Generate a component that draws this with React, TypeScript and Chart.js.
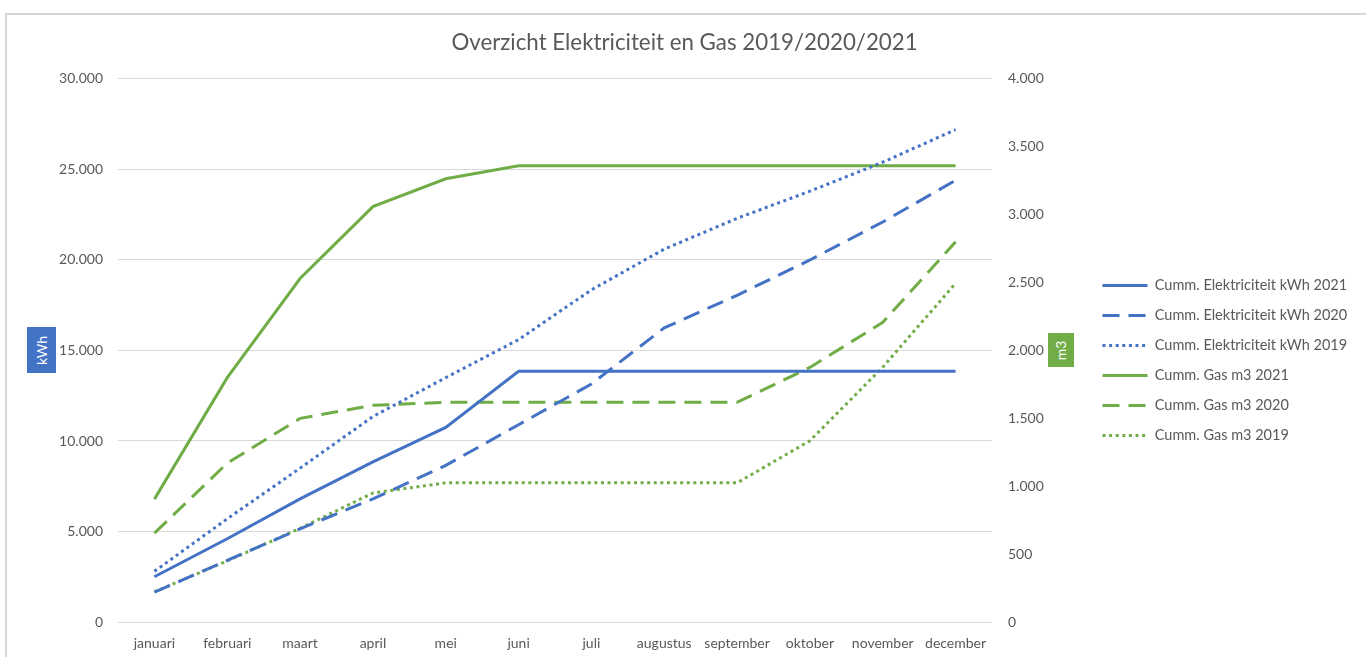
import React, { useEffect, useRef } from "react";
import { Chart, registerables } from "chart.js";

Chart.register(...registerables);

// ---- data ----
const months = [
  "januari", "februari", "maart", "april", "mei", "juni",
  "juli", "augustus", "september", "oktober", "november", "december",
];

const elek2021 = [2500, 4600, 6800, 8850, 10750, 13850, 13850, 13850, 13850, 13850, 13850, 13850];
const elek2020 = [1650, 3400, 5150, 6800, 8650, 10900, 13150, 16250, 18050, 20000, 22100, 24400];
const elek2019 = [2800, 5700, 8500, 11350, 13500, 15600, 18350, 20600, 22300, 23800, 25400, 27200];
const gas2021 = [905, 1800, 2530, 3060, 3265, 3360, 3360, 3360, 3360, 3360, 3360, 3360];
const gas2020 = [655, 1170, 1500, 1596, 1618, 1618, 1618, 1618, 1618, 1875, 2207, 2800];
const gas2019 = [222, 450, 690, 950, 1025, 1025, 1025, 1025, 1025, 1335, 1877, 2495];

const seriesLabels = [
  "Cumm. Elektriciteit kWh 2021",
  "Cumm. Elektriciteit kWh 2020",
  "Cumm. Elektriciteit kWh 2019",
  "Cumm. Gas m3 2021",
  "Cumm. Gas m3 2020",
  "Cumm. Gas m3 2019",
];

const titleText = "Overzicht Elektriciteit en Gas 2019/2020/2021";
const leftAxisTitle = "kWh";
const rightAxisTitle = "m3";

// ---- styles ----
const W = 1369;
const H = 657;
const FONT = "Lato, 'Open Sans', sans-serif";
const GREY = "#595959";
const GRID = "#d9d9d9";
const BLUE = "#4472C4";
const GREEN = "#70AD47";
const DASH = [17, 9];
const DOT = [3, 3.6];

const LEGEND_FONT = 14.5;
const LEGEND_PAD = 15.5;
const LEGEND_BOX = 45;
const LEGEND_LEFT = 1087;
const CHART_LEFT = 118;
const CHART_RIGHT = 992;
const BOTTOM_PAD = -7;

function nlNumber(v: number): string {
  const s = String(Math.round(v));
  return s.replace(/\B(?=(\d{3})+(?!\d))/g, ".");
}

export default function App() {
  const ref = useRef<HTMLCanvasElement | null>(null);

  useEffect(() => {
    if (!ref.current) return;
    const mc = document.createElement("canvas").getContext("2d")!;
    mc.font = `${LEGEND_FONT}px ${FONT}`;
    const maxText = Math.max(...seriesLabels.map((l) => mc.measureText(l).width));
    // chart.js legend width = padding + box + font/2 + text + 10
    const legendWidth = LEGEND_PAD + LEGEND_BOX + LEGEND_FONT / 2 + maxText + 10;
    const sidePad = Math.max(0, W - LEGEND_LEFT - legendWidth);

    const mk = (
      label: string,
      data: number[],
      color: string,
      dash: number[],
      axis: string
    ) => ({
      label,
      data,
      borderColor: color,
      backgroundColor: color,
      borderWidth: 3,
      borderDash: dash,
      pointRadius: 0,
      pointHoverRadius: 0,
      tension: 0,
      fill: false,
      yAxisID: axis,
    });

    const chart = new Chart(ref.current, {
      type: "line",
      data: {
        labels: months,
        datasets: [
          mk(seriesLabels[0], elek2021, BLUE, [], "y"),
          mk(seriesLabels[1], elek2020, BLUE, DASH, "y"),
          mk(seriesLabels[2], elek2019, BLUE, DOT, "y"),
          mk(seriesLabels[3], gas2021, GREEN, [], "y1"),
          mk(seriesLabels[4], gas2020, GREEN, DASH, "y1"),
          mk(seriesLabels[5], gas2019, GREEN, DOT, "y1"),
        ],
      },
      options: {
        responsive: false,
        animation: false,
        layout: { padding: { left: sidePad, right: sidePad, top: 0, bottom: BOTTOM_PAD } },
        plugins: {
          title: {
            display: true,
            text: titleText,
            color: GREY,
            font: { family: FONT, size: 22.3, weight: "normal" },
            padding: { top: 29, bottom: 23.2 },
          },
          legend: {
            position: "right",
            align: "center",
            fullSize: false,
            maxWidth: 600,
            title: {
              display: true,
              text: "",
              font: { size: 10 },
              padding: { top: 4, bottom: 4 },
            },
            labels: {
              usePointStyle: true,
              pointStyle: "line",
              pointStyleWidth: LEGEND_BOX,
              color: GREY,
              font: { family: FONT, size: LEGEND_FONT },
              padding: LEGEND_PAD,
              generateLabels: (ch: any) => {
                const items = (Chart as any).defaults.plugins.legend.labels.generateLabels(ch);
                items.forEach((it: any, i: number) => {
                  const ds = ch.data.datasets[i];
                  it.lineDash = ds.borderDash;
                  it.strokeStyle = ds.borderColor;
                  it.fillStyle = ds.borderColor;
                  it.lineWidth = 3;
                  it.pointStyle = "line";
                });
                return items;
              },
            },
          },
          tooltip: { enabled: false },
        },
        scales: {
          x: {
            type: "category",
            offset: true,
            grid: { display: false, drawTicks: false },
            border: { display: false },
            ticks: {
              color: GREY,
              font: { family: FONT, size: 14 },
              padding: 12.6,
              maxRotation: 0,
              autoSkip: false,
            },
          },
          y: {
            type: "linear",
            position: "left",
            min: 0,
            max: 30000,
            grid: { color: GRID, lineWidth: 1, drawTicks: false },
            border: { display: false },
            ticks: {
              stepSize: 5000,
              color: GREY,
              font: { family: FONT, size: 14 },
              padding: 15,
              callback: (v: any) => nlNumber(Number(v)),
            },
            afterFit: (s: any) => {
              s.width = CHART_LEFT - sidePad;
            },
          },
          y1: {
            type: "linear",
            position: "right",
            min: 0,
            max: 4000,
            grid: { display: false, drawTicks: false },
            border: { display: false },
            ticks: {
              stepSize: 500,
              color: GREY,
              font: { family: FONT, size: 14 },
              padding: 16,
              callback: (v: any) => nlNumber(Number(v)),
            },
            afterFit: (s: any) => {
              s.width = LEGEND_LEFT - CHART_RIGHT;
            },
          },
        },
      } as any,
    });
    return () => chart.destroy();
  }, []);

  const boxText: React.CSSProperties = {
    position: "absolute",
    display: "flex",
    alignItems: "center",
    justifyContent: "center",
    color: "#ffffff",
    fontFamily: FONT,
    fontSize: 14,
  };

  return (
    <div style={{ position: "absolute", left: 0, top: 0, width: W, height: H, background: "#fff", overflow: "hidden" }}>
      <div
        style={{
          position: "absolute",
          left: 5,
          top: 13,
          width: W - 8,
          height: H,
          borderTop: "2px solid #d6d6d6",
          borderLeft: "2px solid #d6d6d6",
          boxSizing: "border-box",
        }}
      />
      <canvas
        ref={ref}
        width={W}
        height={H}
        style={{ position: "absolute", left: 0, top: 0, width: W, height: H }}
      />
      <div style={{ ...boxText, left: 27, top: 327, width: 29, height: 46, background: BLUE }}>
        <span style={{ transform: "rotate(-90deg)", whiteSpace: "nowrap" }}>{leftAxisTitle}</span>
      </div>
      <div style={{ ...boxText, left: 1048, top: 333, width: 26, height: 34, background: GREEN }}>
        <span style={{ transform: "rotate(-90deg)", whiteSpace: "nowrap" }}>{rightAxisTitle}</span>
      </div>
    </div>
  );
}
